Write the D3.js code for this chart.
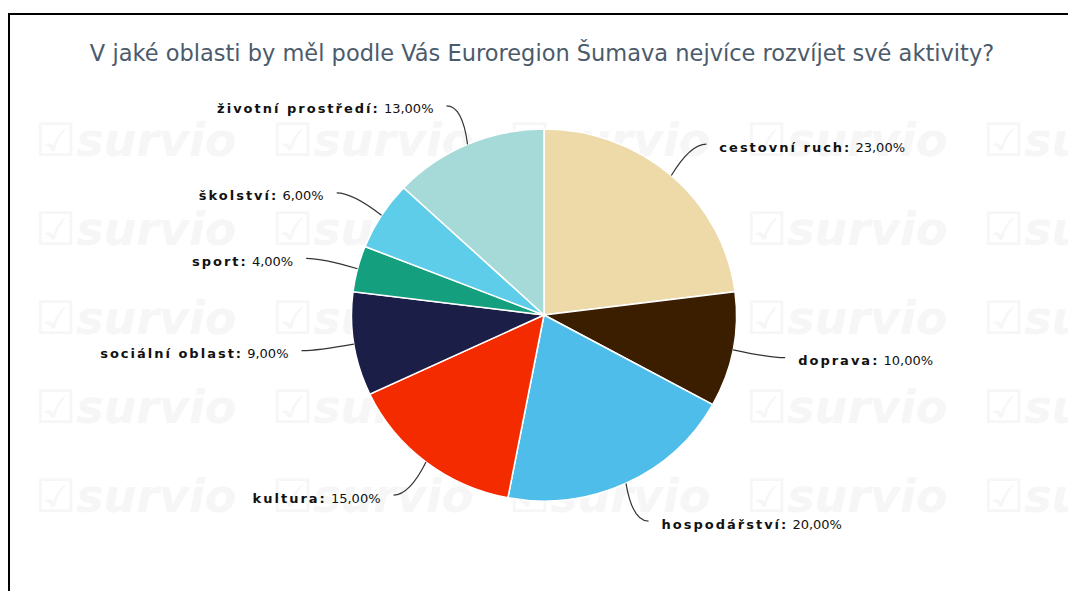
<!DOCTYPE html>
<meta charset="utf-8">
<style>
body { margin: 0; background: #fff; }
svg { display: block; }
</style>
<svg width="1068" height="591"></svg>
<script src="https://d3js.org/d3.v7.min.js"></script>
<script>

var title = "V jaké oblasti by měl podle Vás Euroregion Šumava nejvíce rozvíjet své aktivity?"
var categories = ["cestovní ruch", "doprava", "hospodářství", "kultura", "sociální oblast", "sport", "školství", "životní prostředí"]
var shares = [23, 10, 20, 15, 9, 4, 6, 13]
var colors = ["#EED9A9", "#3B1E00", "#4FBDE9", "#F52B00", "#1B1E46", "#14A07F", "#5DCDE9", "#A6DAD8"]

var data = categories.map(function (c, i) { return {name: c, value: shares[i], color: colors[i]} })

var svg = d3.select("svg"),
    cx = 544, cy = 315, r = 186, sx = 1.035

// watermark
var wm = svg.append("g")
d3.range(5).forEach(function (row) {
  d3.range(5).forEach(function (col) {
    wm.append("text")
      .attr("x", 35 + col * 237)
      .attr("y", 156 + row * 89)
      .style("font-family", "DejaVu Sans")
      .style("font-style", "italic")
      .style("font-weight", "bold")
      .style("font-size", "46px")
      .style("fill", "#f6f6f6")
      .text("☑survio")
  })
})

// frame
svg.append("path")
  .attr("d", "M9,591V14H1068")
  .attr("fill", "none")
  .attr("stroke", "#000")
  .attr("stroke-width", 2)

svg.append("text")
  .attr("x", 542)
  .attr("y", 61)
  .attr("text-anchor", "middle")
  .style("font-family", "DejaVu Sans")
  .style("font-size", "22.5px")
  .style("fill", "#4b5b6b")
  .text(title)

var pie = d3.pie().sort(null).value(function (d) { return d.value })
var arcs = pie(data)
var arc = d3.arc().innerRadius(0).outerRadius(r)

var g = svg.append("g").attr("transform", "translate(" + cx + "," + cy + ") scale(" + sx + ",1)")

g.selectAll("path.slice")
  .data(arcs)
  .enter()
  .append("path")
  .attr("class", "slice")
  .attr("d", arc)
  .attr("fill", function (d) { return d.data.color })
  .attr("stroke", "#fff")
  .attr("stroke-width", 1.5)

function polar(a, rx, ry) {
  return [cx + Math.sin(a) * rx, cy - Math.cos(a) * ry]
}

var labels = svg.append("g")
arcs.forEach(function (d) {
  var a = (d.startAngle + d.endAngle) / 2
  var side = Math.sin(a) >= 0 ? 1 : -1
  var p0 = polar(a, r * sx, r)
  var e = polar(a, r * 1.32, r * 1.225)
  var c = [e[0] - side * 16, e[1]]
  var path = d3.path()
  path.moveTo(p0[0], p0[1])
  path.quadraticCurveTo(c[0], c[1], e[0], e[1])
  labels.append("path")
    .attr("d", path.toString())
    .attr("fill", "none")
    .attr("stroke", "#333")
    .attr("stroke-width", 1.2)

  var t = labels.append("text")
    .attr("x", e[0] + side * 13)
    .attr("y", e[1] + 3)
    .attr("dy", "0.35em")
    .attr("text-anchor", side > 0 ? "start" : "end")
    .style("font-family", "DejaVu Sans")
    .style("font-size", "13px")
    .style("fill", "#111")
  t.append("tspan")
    .style("font-weight", "bold")
    .style("letter-spacing", "2px")
    .text(d.data.name + ":")
  t.append("tspan")
    .text(" " + d3.format(".2f")(d.data.value).replace(".", ",") + "%")
})

</script>
